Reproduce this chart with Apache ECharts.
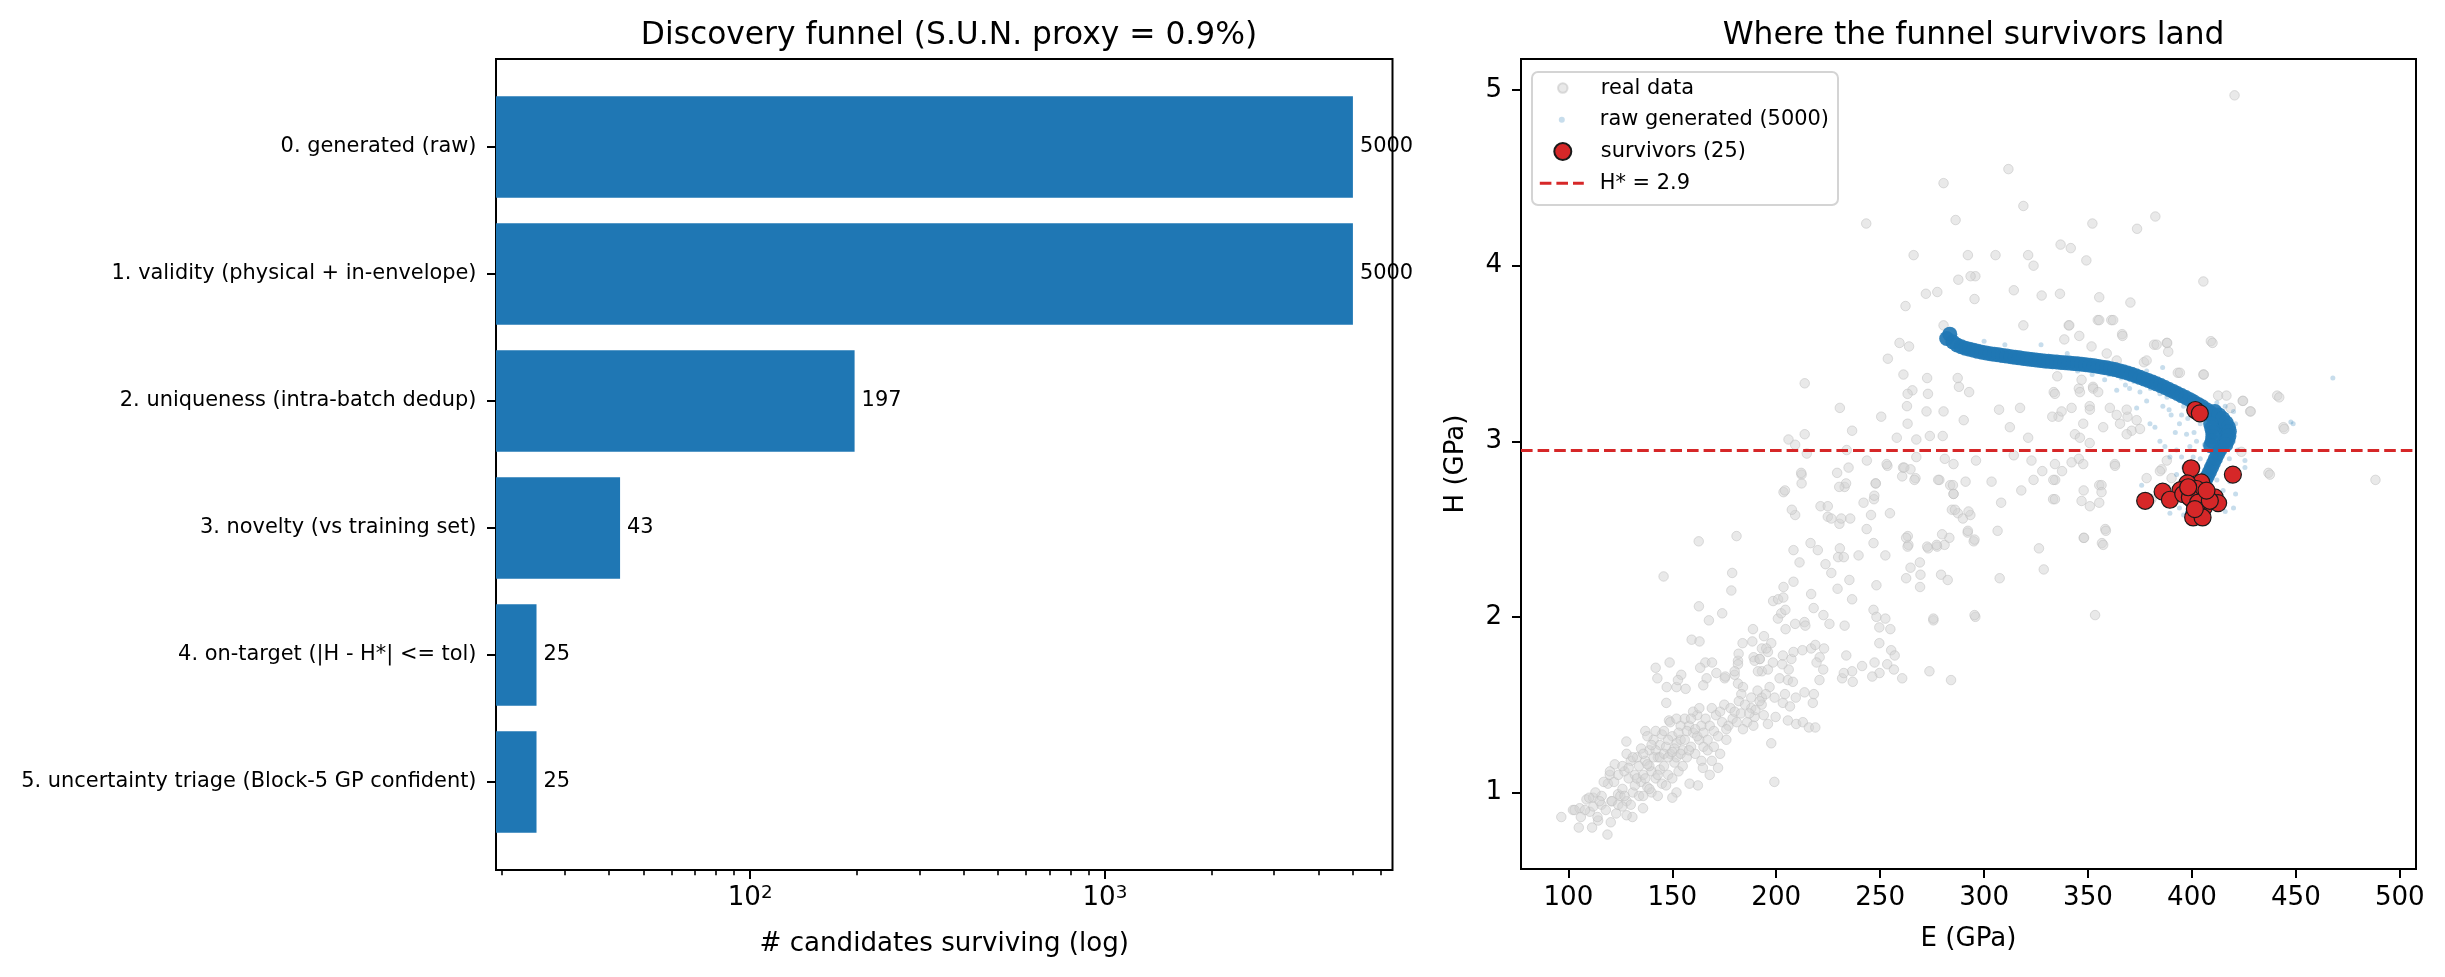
<!DOCTYPE html>
<html><head><meta charset="utf-8">
<script src="https://cdn.jsdelivr.net/npm/echarts@6/dist/echarts.min.js"></script>
<style>html,body{margin:0;padding:0;background:#fff}#c{width:2445px;height:977px}</style>
</head><body><div id="c"></div><script>
// ---------- Left panel: discovery funnel ----------
const STAGES = [
  '0. generated (raw)',
  '1. validity (physical + in-envelope)',
  '2. uniqueness (intra-batch dedup)',
  '3. novelty (vs training set)',
  '4. on-target (|H - H*| <= tol)',
  '5. uncertainty triage (Block-5 GP confident)'
];
const SURVIVING = [5000, 5000, 197, 43, 25, 25];
const LOG_MIN = 19.22, LOG_MAX = 6465;
const LOG_MAJOR = [100, 1000];
const LOG_MINOR = [20,30,40,50,60,70,80,90,200,300,400,500,600,700,800,900,2000,3000,4000,5000,6000];

// ---------- Right panel: where survivors land ----------
const E_RANGE = [77.2, 507.8];
const H_RANGE = [0.564, 5.177];
const E_TICKS = [100,150,200,250,300,350,400,450,500];
const H_TICKS = [1,2,3,4,5];
const H_STAR = 2.95;

const REAL_DATA = [
[96.6,0.86],[102.2,0.90],[105,0.80],[111.4,0.80],[118.8,0.76],[105.4,0.91],[110.3,0.89],[108.7,0.96],[111.9,0.97],[114.3,0.84],[120.4,0.83],[130.8,0.86],[128,0.87],[135.9,0.91],[120.7,0.95],[115.9,0.93],[123.9,0.99],[119.9,1.10],[122.3,1.16],[127.9,1.29],[137,1.35],[142,1.71],[142.8,1.65],[148.7,1.74],[145.8,2.23],[147.3,1.60],[152,1.60],[156.4,1.59],[147.1,1.51],[148.4,1.41],[154.3,1.67],[152.7,1.64],[159.3,1.87],[163.1,1.86],[162.7,2.43],[162.8,2.06],[167.6,1.98],[174,2.02],[165.9,1.74],[169.1,1.74],[163.4,1.71],[166.5,1.65],[164.9,1.61],[171.2,1.68],[175.2,1.65],[180,1.67],[181.6,1.75],[181.9,1.79],[178.4,2.15],[178.8,2.25],[180.9,2.46],[183.8,1.85],[188.5,1.86],[188.8,1.93],[194.1,1.89],[193.1,1.82],[197.6,1.85],[196,1.80],[189.1,1.77],[192.1,1.76],[181.6,1.62],[184,1.60],[188,1.48],[183.2,1.56],[189.6,1.43],[196,1.39],[197.6,1.28],[199.1,1.06],[193.1,1.54],[196.8,1.60],[199.2,1.54],[199.7,1.43],[203.2,1.51],[206.6,1.49],[205.6,1.41],[209.6,1.39],[212.8,1.40],[215.7,1.37],[218.8,1.37],[217.6,1.51],[218.1,1.56],[213.6,1.57],[209.4,1.54],[204.2,1.56],[201.6,1.65],[205.6,1.64],[208,1.63],[206,1.70],[202.9,1.73],[203.2,1.78],[207.3,1.76],[208.3,1.80],[212.6,1.81],[216.8,1.82],[218.8,1.84],[223,1.82],[220.9,1.77],[219.4,1.74],[222.6,1.70],[220.8,1.64],[193.1,1.69],[196,1.70],[198.4,1.74],[191.2,1.69],[189.6,1.75],[192,1.76],[195.2,1.82],[181.6,1.73],[180,1.69],[175.5,1.66],[200.8,1.99],[202.4,2.02],[204.4,2.04],[204.5,1.93],[209.1,1.96],[213.6,1.97],[198.5,2.09],[200.9,2.10],[203.4,2.11],[203.5,2.17],[208.3,2.20],[203.5,2.71],[209.1,2.58],[212.2,2.81],[212.2,2.76],[208.3,2.38],[211.2,2.31],[216.5,2.42],[220,2.38],[221.3,2.63],[224.8,2.57],[226.5,2.56],[230.4,2.53],[235.6,2.56],[229.3,2.82],[234.8,2.85],[232.9,2.74],[223.7,2.30],[226.5,2.25],[230.6,2.39],[229.8,2.34],[232.5,2.34],[235.2,2.21],[229.5,2.16],[216.8,2.13],[236.5,2.10],[222.7,2.01],[225.6,1.96],[232.9,1.95],[233.7,1.78],[236.5,1.69],[236.8,1.63],[231.7,1.65],[239.6,2.35],[243.5,2.50],[242,2.65],[247,2.67],[247.8,2.76],[253.5,2.86],[246.8,2.42],[252.5,2.35],[248.2,2.18],[246.8,2.04],[248.2,2.00],[249.6,1.94],[252.5,1.99],[254.9,1.93],[249.6,1.85],[255.3,1.81],[247.3,1.74],[249.7,1.68],[253.4,1.73],[256.6,1.70],[246.2,1.66],[241.3,1.72],[260.6,1.65],[261,2.85],[260.6,2.80],[264.6,2.84],[267,2.79],[263.3,2.46],[263.6,2.41],[269.1,2.31],[264.6,2.28],[262.5,2.22],[269.4,2.24],[269.2,2.17],[273.1,2.39],[277.4,2.40],[281,2.41],[283.3,2.45],[278.5,2.78],[283.7,2.75],[285.3,2.70],[284.5,2.61],[287.4,2.59],[289.8,2.56],[293.4,2.58],[291.1,2.77],[292.1,2.48],[295,2.43],[279.3,2.24],[282.5,2.21],[275.6,1.98],[295.8,2.00],[273.7,1.69],[284.1,1.64],
[420.5,4.97],[311.7,4.55],[280.5,4.47],[318.9,4.34],[286.3,4.26],[243.3,4.24],[352.1,4.24],[382.4,4.28],[373.6,4.21],[336.8,4.12],[341.7,4.10],[349.2,4.03],[266.1,4.06],[292.2,4.06],[305.5,4.06],[321.2,4.06],[323.8,4.00],[287.6,3.92],[295.8,3.94],[293.5,3.94],[314.3,3.86],[405.5,3.91],[272,3.84],[277.5,3.85],[295.4,3.81],[327.7,3.83],[336.5,3.84],[355.4,3.82],[370.4,3.79],[262.2,3.77],[354.7,3.69],[361.2,3.69],[340.7,3.66],[318.9,3.66],[366.4,3.61],[280.5,3.66],[259.3,3.56],[263.9,3.54],[253.7,3.47],[381.8,3.55],[387.9,3.56],[409.1,3.57],[376.9,3.45],[261.2,3.38],[272.6,3.36],[287.3,3.36],[393.2,3.39],[405.5,3.38],[213.7,3.33],[287.9,3.31],[265.5,3.29],[263.2,3.27],[273,3.27],[292.8,3.28],[333.5,3.28],[345.6,3.30],[352.4,3.31],[441,3.26],[424.4,3.23],[428,3.17],[230.6,3.19],[262.9,3.20],[272.3,3.17],[280.5,3.17],[307.2,3.18],[317.3,3.19],[350.8,3.20],[335.8,3.14],[369,3.14],[250.5,3.14],[290.2,3.12],[263.2,3.10],[236.5,3.06],[312.4,3.08],[444,3.08],[213.7,3.04],[205.9,3.01],[209.1,2.98],[258,3.02],[267.4,3.01],[273.9,3.03],[280.1,3.03],[321.2,3.02],[350.8,2.99],[214.7,2.93],[233.9,2.95],[243.6,2.89],[253.1,2.87],[261.6,2.85],[267.4,2.91],[281.1,2.90],[285.3,2.87],[296.1,2.89],[314.3,2.92],[322.8,2.89],[328,2.83],[337.5,2.83],[345.6,2.90],[362.9,2.87],[387.9,2.89],[423.8,2.94],[436.8,2.82],[488.3,2.78],[212,2.82],[204.2,2.72],[207.5,2.61],[233.6,2.76],[247.9,2.76],[266.5,2.78],[277.9,2.78],[285,2.75],[303.6,2.77],[317.9,2.72],[323.8,2.78],[334.2,2.78],[347.9,2.72],[355.4,2.75],[380.5,2.67],[355.4,2.65],[333.2,2.67],[285.3,2.70],[286,2.61],[292.5,2.60],[308.2,2.65],[224.8,2.63],[231.3,2.56],[245.6,2.58],[254.7,2.59],[247.2,2.69],[230.3,2.74],[262.5,2.45],[263.2,2.40],[272.6,2.40],[277.2,2.41],[279.8,2.47],[292.2,2.49],[295.4,2.44],[306.5,2.49],[347.9,2.45],[358.3,2.50],[356.7,2.42],[326.4,2.39],[328.7,2.27],[307.5,2.22],[353.4,2.01],[295.4,2.01],[275.6,1.99],[232.5,1.68],[257,1.78],[214,1.95],[218,2.05],
[341,3.66],[355.4,3.69],[362.1,3.69],[338.6,3.58],[345.8,3.60],[366.6,3.60],[351.7,3.54],[383,3.55],[388.1,3.56],[388.6,3.51],[409.9,3.56],[359,3.50],[363.8,3.46],[335.2,3.37],[346.9,3.35],[352.5,3.30],[354.9,3.28],[334.1,3.27],[346.1,3.28],[378.2,3.46],[394.2,3.39],[405.7,3.38],[412.6,3.26],[416.6,3.26],[424.6,3.23],[428.3,3.17],[418.6,3.19],[442,3.25],[444.4,3.07],[437.5,2.81],[337.3,3.17],[342.1,3.19],[332.8,3.14],[350.9,3.18],[360.5,3.19],[363.8,3.15],[368.6,3.18],[373.4,3.12],[347.7,3.10],[357.3,3.08],[365.4,3.10],[371,3.06],[375,3.07],[368.6,3.04],[343.7,3.04],[346.1,3.02],[342.1,2.88],[347.7,2.87],[334.1,2.87],[363,2.86],[378.2,2.79],[385.4,2.84],[333.3,2.78],[356.5,2.75],[356.5,2.71],[346.9,2.66],[350.9,2.63],[334.1,2.67],[358.6,2.49],[348.1,2.45],[357.3,2.41],[384.6,2.83],[390.2,2.79],
[116,0.98],[118,0.9],[119,1.05],[121,0.95],[122,1.06],[123,0.88],[124,1.1],[125,0.98],[117,1.06],[120,1.12],[124,0.93],
[126,1.02],[127,1.12],[128,0.95],[129,1.08],[130,1.18],[131,1.0],[132,1.1],[133,1.2],[134,0.98],[135,1.06],[126,1.15],[128,1.22],[130,0.93],[132,1.04],[134,1.15],[127,0.98],[129,1.14],[131,1.2],[133,1.08],[135,1.25],[126,0.92],
[136,1.1],[137,1.18],[138,1.03],[139,1.24],[140,1.12],[141,1.3],[142,1.08],[143,1.2],[144,1.27],[145,1.05],[136,1.22],[138,1.32],[140,1.0],[142,1.24],[144,1.13],[137,1.08],[139,1.15],[141,1.2],[143,1.1],[145,1.33],[136,0.98],[138,1.16],[140,1.27],[142,1.35],[144,1.2],[139,1.02],
[146,1.15],[147,1.26],[148,1.1],[149,1.22],[150,1.32],[151,1.17],[152,1.28],[153,1.12],[154,1.38],[155,1.24],[146,1.35],[148,1.3],[150,1.08],[152,1.2],[154,1.3],[147,1.04],[149,1.4],[151,1.25],[153,1.34],[155,1.15],[146,1.22],[148,1.2],[150,1.23],[152,1.42],[154,1.22],
[156,1.3],[157,1.2],[158,1.38],[159,1.26],[160,1.34],[161,1.22],[162,1.44],[163,1.3],[164,1.38],[165,1.26],[156,1.42],[158,1.24],[160,1.46],[162,1.32],[164,1.18],[157,1.35],[159,1.42],[161,1.36],[163,1.48],[165,1.34],
[166,1.42],[167,1.3],[168,1.38],[169,1.48],[170,1.35],[171,1.44],[172,1.32],[173,1.46],[174,1.4],[175,1.5],[177,1.38],[178,1.48],[179,1.42],[176,1.3],[180,1.46],[167,1.24],[170,1.26],[173,1.22],[176,1.36],[169,1.18],
[181,1.4],[182,1.52],[183,1.45],[185,1.5],[186,1.4],[188,1.54],[190,1.47],[191,1.58],[193,1.5],[194,1.44],[184,1.36],[187,1.45],[189,1.38],[192,1.52],[195,1.56],
[112,0.92],[113,1.0],[114,0.86],[115,0.95],[108,0.9],[110,0.97],[106,0.86],[103,0.9],
[162.3,1.04],[152,1.0],[158.3,1.05],[172,1.14],[164.7,1.14],[143,0.98],[150,0.97],[168,1.1]
];

const RAW_FAINT = [
[385.9,3.42],[378.2,3.40],[382.2,3.08],[384.6,3.00],[387,2.97],[389.4,2.91],[392.6,2.81],[388.6,2.74],[389.4,2.59],[425.5,2.89],[425.5,2.85],[418.2,2.77],[415,2.72],[448.7,3.10],[375.8,2.75],[397.4,3.04],[402.2,3.00],[399,2.97],[392.6,2.95],[395,2.91],[400.6,2.91],[379.8,3.10],[373.4,3.19],[363.8,3.29],[378.2,3.23],[384.6,3.27],[467.8,3.36],[447.6,3.11],[327.4,3.55],[390,3.15],[394,3.10],[398,3.13],[386,3.20],[392,3.05],[396,2.85],[398,2.80],[394,2.62],[396,2.58],[392,2.68],[420,3.00],[422,2.95],[418,3.05],[370,3.30],[358,3.35],[352,3.38],[345,3.40],[340,3.50],[310,3.55],[300,3.57],[420,2.62],[416,2.60],[421,2.70],[405,2.55],[399,2.55],
[360,3.38],[366,3.36],[372,3.34],[380,3.30],[388,3.25],[396,3.2],[402,3.16],[395,3.15],[389,3.18],[375,3.28],[368,3.32],[404,3.1],[401,3.05],[406,2.98],[404,2.9],[403,2.85],[399,2.72],[397,2.68],[412,2.78],[414,2.66],[418,2.9],[421,3.1],[420,3.17],[416,3.2],[412,3.22]
];

const RAW_BAND = [
[282,3.585],[283.5,3.61],[285,3.565],[287,3.548],[289,3.538],[291,3.53],[293,3.524],[295,3.518],[297,3.512],[299,3.507],[301,3.503],[303,3.499],[305,3.495],[307,3.492],[309,3.488],[311,3.485],[313,3.482],[315,3.478],[317,3.475],[319,3.472],[321,3.469],[323,3.466],[325,3.463],[327,3.46],[329,3.457],[331,3.455],[333,3.453],[335,3.451],[337,3.449],[339,3.447],[341,3.445],[343,3.443],[345,3.441],[347,3.439],[349,3.436],[351,3.433],[353,3.43],[355,3.426],[357,3.422],[359,3.418],[361,3.413],[363,3.408],[365,3.402],[367,3.396],[369,3.389],[371,3.381],[373,3.373],[375,3.364],[377,3.355],[379,3.346],[381,3.337],[383,3.327],[385,3.317],[387,3.306],[389,3.295],[391,3.284],[393,3.272],[395,3.26],[397,3.249],[399,3.237],[401,3.224],[403,3.21],[405,3.196],[407,3.18],[409,3.162],[411,3.143],[413,3.122],[414.6,3.1],[415.8,3.075],[416.4,3.05],[416.3,3.025],[415.6,3.0],[414.6,2.975],[413.4,2.95],[412.3,2.925],[411.3,2.9],[410.3,2.875],[409.4,2.85],[408.4,2.825],[407.4,2.8],[406.4,2.775],[405.4,2.75],[404.5,2.725],[403.7,2.7],[402.9,2.675],[402.1,2.65],[401.4,2.625],[400.8,2.6],[400.2,2.585],
[408,3.16],[410,3.14],[412,3.12],[413.5,3.1],[415,3.08],[411,3.17],[413,3.15],[414.8,3.13],[416.5,3.105],[417.6,3.08],[418,3.055],[417.8,3.03],[417.2,3.005],[416.3,2.98],
[409,3.1],[409.5,3.075],[410,3.05],[410,3.025],[409.7,3.0],[409,2.975]
];

const SURVIVORS = [
[401.6,3.178],[403.8,3.159],[399.6,2.846],[419.7,2.81],[404.5,2.766],[397.8,2.76],[394.5,2.722],[385.9,2.713],[389.4,2.667],[377.5,2.661],[400.6,2.661],[405.7,2.69],[411,2.68],[412.6,2.648],[405.7,2.623],[400.6,2.566],[405.1,2.566],[402.2,2.728],[395.8,2.699],[399,2.68],[403,2.651],[408.6,2.661],[407,2.719],[401.4,2.614],[398.2,2.738]
];

// ---------- styling constants ----------
const FONT = 'DejaVu Sans';
const F_TITLE = 31.3, F_AXIS = 26.1, F_SMALL = 20.9;
const BLUE = '#1f77b4', RED = '#d62728';
const TICK = {show: true, length: 9, lineStyle: {color: '#000', width: 2}};
const LEG_ICON_CX = 1561.8;   // legend marker centre (px)

const chart = echarts.init(document.getElementById('c'), null, {renderer: 'canvas'});
const txt = (size) => ({fontFamily: FONT, fontSize: size, color: '#000'});
const legText = Object.assign({lineHeight: 21, padding: [0, 0, 0, 11]}, txt(F_SMALL));

const option = {
  animation: false,
  backgroundColor: '#fff',
  title: [
    {text: 'Discovery funnel (S.U.N. proxy = 0.9%)', left: 944, top: 15, textAlign: 'center',
     textStyle: Object.assign(txt(F_TITLE), {fontWeight: 'normal'})},
    {text: 'Where the funnel survivors land', left: 1968.5, top: 15, textAlign: 'center',
     textStyle: Object.assign(txt(F_TITLE), {fontWeight: 'normal'})}
  ],
  grid: [
    {left: 496, top: 59, width: 896.5, height: 811, show: true, borderColor: '#000', borderWidth: 2, backgroundColor: 'transparent'},
    {left: 496, top: 83.5, width: 896.5, height: 762},
    {left: 1521, top: 59, width: 895, height: 810, show: true, borderColor: '#000', borderWidth: 2, backgroundColor: 'transparent'}
  ],
  xAxis: [
    {gridIndex: 0, type: 'log', logBase: 10, min: LOG_MIN, max: LOG_MAX, position: 'bottom',
     axisLine: {show: false}, splitLine: {show: false},
     axisTick: Object.assign({customValues: LOG_MAJOR}, TICK),
     axisLabel: {customValues: LOG_MAJOR, margin: 14,
       formatter: v => '{b|10}{s|' + Math.round(Math.log10(v)) + '}',
       rich: {b: txt(F_AXIS), s: Object.assign(txt(18.3), {verticalAlign: 'top', padding: [0, 0, 10, 0]})}},
     name: '# candidates surviving (log)', nameLocation: 'middle', nameGap: 61,
     nameTextStyle: txt(F_AXIS)},
    {gridIndex: 0, type: 'log', logBase: 10, min: LOG_MIN, max: LOG_MAX, position: 'bottom', offset: 0,
     axisLine: {show: false}, splitLine: {show: false}, axisLabel: {show: false},
     axisTick: {show: true, customValues: LOG_MINOR, length: 5.2, lineStyle: {color: '#000', width: 1.6}}},
    {gridIndex: 1, type: 'log', logBase: 10, min: LOG_MIN, max: LOG_MAX, startValue: LOG_MIN, show: false},
    {gridIndex: 2, type: 'value', min: E_RANGE[0], max: E_RANGE[1],
     axisLine: {show: false}, splitLine: {show: false},
     axisTick: Object.assign({customValues: E_TICKS}, TICK),
     axisLabel: Object.assign({customValues: E_TICKS, margin: 16}, txt(F_AXIS)),
     name: 'E (GPa)', nameLocation: 'middle', nameGap: 57, nameTextStyle: txt(F_AXIS)}
  ],
  yAxis: [
    {gridIndex: 0, type: 'value', min: 0, max: 1, show: false},
    {gridIndex: 1, type: 'category', data: STAGES, inverse: true,
     axisLine: {show: false}, splitLine: {show: false},
     axisTick: Object.assign({alignWithLabel: true}, TICK),
     axisLabel: Object.assign({margin: 19.5, interval: 0}, txt(F_SMALL))},
    {gridIndex: 2, type: 'value', min: H_RANGE[0], max: H_RANGE[1],
     axisLine: {show: false}, splitLine: {show: false},
     axisTick: Object.assign({customValues: H_TICKS}, TICK),
     axisLabel: Object.assign({customValues: H_TICKS, margin: 19}, txt(F_AXIS)),
     name: 'H (GPa)', nameLocation: 'middle', nameGap: 52, nameRotate: 90, nameTextStyle: txt(F_AXIS)}
  ],
  legend: [
    {data: [{name: 'real data', icon: 'circle'}], left: LEG_ICON_CX - 4.75, top: 77.6, padding: 0,
     itemWidth: 44, itemHeight: 9.5, selectedMode: false, textStyle: legText},
    {data: [{name: 'raw generated (5000)', icon: 'circle'}], left: LEG_ICON_CX - 3, top: 109.3, padding: 0,
     itemWidth: 44, itemHeight: 6, selectedMode: false, textStyle: legText},
    {data: [{name: 'survivors (25)', icon: 'circle'}], left: LEG_ICON_CX - 8.5, top: 141, padding: 0,
     itemWidth: 44, itemHeight: 17, selectedMode: false, textStyle: legText},
    {data: [{name: 'H* = 2.9', icon: 'path://M0 0h11.6v3H0zM16.6 0h11.6v3H16.6zM33.2 0h10.8v3H33.2z', itemStyle: {color: RED}}],
     left: LEG_ICON_CX - 22, top: 172.7, padding: 0, itemWidth: 44, itemHeight: 21, selectedMode: false,
     textStyle: legText}
  ],
  graphic: [
    {type: 'rect', left: 1531, top: 71, z: 3,
     shape: {width: 306, height: 133, r: 6},
     style: {fill: 'rgba(255,255,255,0.8)', stroke: '#d4d4d4', lineWidth: 2}}
  ],
  series: [
    {type: 'bar', name: 'funnel', xAxisIndex: 2, yAxisIndex: 1, data: SURVIVING,
     barWidth: '80%', clip: true, itemStyle: {color: BLUE},
     label: Object.assign({show: true, position: 'right', distance: 7}, txt(F_SMALL))},
    {type: 'scatter', name: 'real data', xAxisIndex: 3, yAxisIndex: 2, data: REAL_DATA,
     symbolSize: 9.5, itemStyle: {color: '#d3d3d3', borderColor: '#bdbdbd', borderWidth: 1, opacity: 0.5}},
    {type: 'scatter', name: 'raw generated (5000)', xAxisIndex: 3, yAxisIndex: 2, data: RAW_FAINT,
     symbolSize: 5, itemStyle: {color: BLUE, opacity: 0.25}},
    {type: 'scatter', name: 'raw generated (5000)', xAxisIndex: 3, yAxisIndex: 2, data: RAW_BAND,
     symbolSize: 15, itemStyle: {color: BLUE, opacity: 0.92}},
    {type: 'scatter', name: 'survivors (25)', xAxisIndex: 3, yAxisIndex: 2, data: SURVIVORS,
     symbolSize: 17, itemStyle: {color: RED, borderColor: '#1a1a1a', borderWidth: 1.2, opacity: 1}},
    {type: 'line', name: 'H* = 2.9', xAxisIndex: 3, yAxisIndex: 2, data: [],
     itemStyle: {color: RED}, lineStyle: {color: RED},
     markLine: {silent: true, symbol: ['none', 'none'], label: {show: false},
       lineStyle: {color: RED, width: 3.1, type: [11.6, 5]},
       data: [{yAxis: H_STAR}]}}
  ]
};
chart.setOption(option);
</script></body></html>
